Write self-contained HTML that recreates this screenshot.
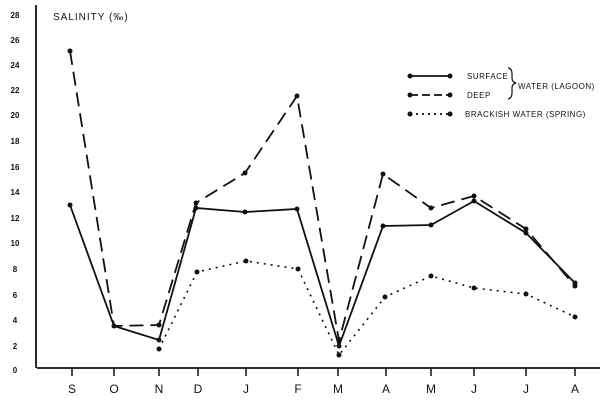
<!DOCTYPE html>
<html><head><style>
html,body{margin:0;padding:0;background:#fff;width:600px;height:407px;overflow:hidden}
text{font-family:"Liberation Sans",sans-serif;fill:#111}
</style></head><body>
<svg width="600" height="407" viewBox="0 0 600 407" xmlns="http://www.w3.org/2000/svg">
<g stroke="#111" fill="none" stroke-width="1.8">
<line x1="36" y1="5" x2="36" y2="368"/>
<line x1="37" y1="368" x2="600" y2="368"/>
<g stroke-width="1.5">
<line x1="72" y1="368" x2="72" y2="376"/><line x1="114" y1="368" x2="114" y2="376"/>
<line x1="159" y1="368" x2="159" y2="376"/><line x1="198" y1="368" x2="198" y2="376"/>
<line x1="246" y1="368" x2="246" y2="376"/><line x1="298" y1="368" x2="298" y2="376"/>
<line x1="338" y1="368" x2="338" y2="376"/><line x1="386" y1="368" x2="386" y2="376"/>
<line x1="431" y1="368" x2="431" y2="376"/><line x1="474" y1="368" x2="474" y2="376"/>
<line x1="526" y1="368" x2="526" y2="376"/><line x1="575" y1="368" x2="575" y2="376"/>
</g>
<polyline points="70,205 114,326 159,340 196,208 245,212 297,209 339,346 383,226 431,225 474,201 526,233 575,283"/>
<polyline stroke-dasharray="14,7" points="70,51 114,326 159,325 196,203 245,173 297,96 339,341 383,174 431,208 474,196 526,229 575,286"/>
<polyline stroke-dasharray="2,5" stroke-width="1.6" points="159,349 197,272 246,261 298,269 339,355 385,297 431,276 474,288 526,294 575,317"/>
<line x1="410" y1="76" x2="450" y2="76"/>
<line x1="410" y1="95" x2="450" y2="95" stroke-dasharray="8,4"/>
<line x1="410" y1="114" x2="450" y2="114" stroke-dasharray="2,4"/>
<path d="M508 68 q4 0 4 6 v4 q0 4 4 5 q-4 1 -4 5 v5 q0 5 -4 6" stroke-width="1.2"/>
</g>
<g fill="#111">
<circle cx="70" cy="205" r="2.5"/><circle cx="114" cy="326" r="2.5"/><circle cx="159" cy="340" r="2.5"/><circle cx="196" cy="208" r="2.5"/><circle cx="245" cy="212" r="2.5"/><circle cx="297" cy="209" r="2.5"/><circle cx="339" cy="346" r="2.5"/><circle cx="383" cy="226" r="2.5"/><circle cx="431" cy="225" r="2.5"/><circle cx="474" cy="201" r="2.5"/><circle cx="526" cy="233" r="2.5"/><circle cx="575" cy="283" r="2.5"/>
<circle cx="70" cy="51" r="2.5"/><circle cx="159" cy="325" r="2.5"/><circle cx="196" cy="203" r="2.5"/><circle cx="245" cy="173" r="2.5"/><circle cx="297" cy="96" r="2.5"/><circle cx="339" cy="341" r="2.5"/><circle cx="383" cy="174" r="2.5"/><circle cx="431" cy="208" r="2.5"/><circle cx="474" cy="196" r="2.5"/><circle cx="526" cy="229" r="2.5"/><circle cx="575" cy="286" r="2.5"/>
<circle cx="159" cy="349" r="2.5"/><circle cx="197" cy="272" r="2.5"/><circle cx="246" cy="261" r="2.5"/><circle cx="298" cy="269" r="2.5"/><circle cx="339" cy="355" r="2.5"/><circle cx="385" cy="297" r="2.5"/><circle cx="431" cy="276" r="2.5"/><circle cx="474" cy="288" r="2.5"/><circle cx="526" cy="294" r="2.5"/><circle cx="575" cy="317" r="2.5"/>
<circle cx="410" cy="76" r="2.5"/><circle cx="450" cy="76" r="2.5"/><circle cx="410" cy="95" r="2.5"/><circle cx="450" cy="95" r="2.5"/><circle cx="410" cy="114" r="2.5"/><circle cx="450" cy="114" r="2.5"/>
</g>
<g font-size="8" font-weight="bold" text-anchor="middle">
<text x="15" y="18">28</text><text x="15" y="43">26</text><text x="15" y="68">24</text><text x="15" y="93">22</text><text x="15" y="118">20</text><text x="15" y="144">18</text><text x="15" y="170">16</text><text x="15" y="195">14</text><text x="15" y="221">12</text><text x="15" y="246">10</text><text x="15" y="272">8</text><text x="15" y="298">6</text><text x="15" y="323">4</text><text x="15" y="349">2</text><text x="15" y="373">0</text>
</g>
<g font-size="12" text-anchor="middle">
<text x="72" y="393">S</text><text x="114" y="393">O</text><text x="159" y="393">N</text><text x="198" y="393">D</text><text x="246" y="393">J</text><text x="298" y="393">F</text><text x="338" y="393">M</text><text x="386" y="393">A</text><text x="431" y="393">M</text><text x="474" y="393">J</text><text x="526" y="393">J</text><text x="575" y="393">A</text>
</g>
<text x="53" y="20" font-size="10" letter-spacing="1">SALINITY (‰)</text>
<g font-size="8" letter-spacing="0.5">
<text x="467" y="79">SURFACE</text><text x="467" y="98">DEEP</text>
<text x="518" y="89">WATER (LAGOON)</text>
<text x="465" y="117">BRACKISH WATER (SPRING)</text>
</g>
</svg>
</body></html>
